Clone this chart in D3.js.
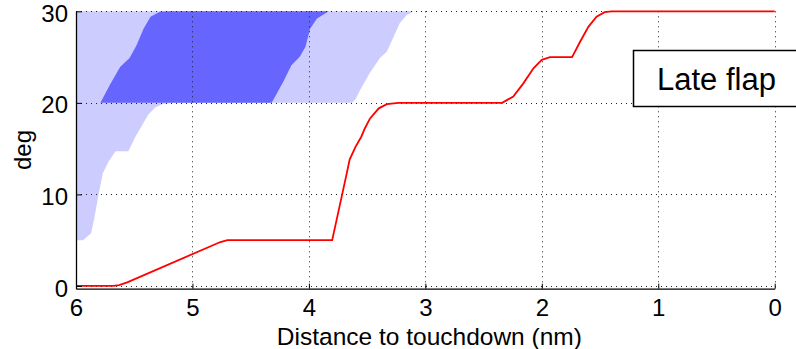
<!DOCTYPE html>
<html>
<head>
<meta charset="utf-8">
<script src="https://cdn.jsdelivr.net/npm/d3@7"></script>
<style>
  body { margin: 0; background: #fff; }
  text { font-family: "Liberation Sans", Arial, sans-serif; fill: #000; }
</style>
</head>
<body>
<div id="chart"></div>
<script>
// light band: lower edge of the allowed region (upper edge is 30 deg)
const lightDist = [6.00, 5.94, 5.87, 5.84, 5.81, 5.77, 5.72, 5.66, 5.55, 5.49, 5.44, 5.38, 5.32, 5.25, 5.15, 3.63, 3.60, 3.56, 3.48, 3.39, 3.33, 3.28, 3.22, 3.16, 3.10];
const lightLow  = [5.0, 5.0, 5.75, 7.6, 9.75, 12.3, 13.6, 14.7, 14.7, 16.3, 17.4, 18.7, 19.5, 19.9, 20, 20, 20.4, 21.4, 23.2, 24.9, 25.6, 27.0, 28.7, 29.6, 30];

// dark band: left (upper) edge and right (lower) edge
const darkHiDist = [5.79, 5.71, 5.62, 5.54, 5.48, 5.42, 5.36, 5.28, 5.20];
const darkHiDeg  = [20, 21.95, 23.95, 24.9, 26.3, 28.1, 29.4, 29.95, 30];
const darkLoDist = [3.83, 3.93, 3.99, 4.03, 4.08, 4.15, 4.22, 4.28, 4.32];
const darkLoDeg  = [30, 29.2, 28.1, 26.1, 25.0, 24.1, 22.3, 20.9, 20];

// flap schedule
const flapDist = [6.00, 5.68, 5.63, 5.56, 4.76, 4.70, 3.80, 3.675, 3.65, 3.60, 3.55, 3.52, 3.475, 3.40, 3.33, 3.23, 2.34, 2.30, 2.245, 2.16, 2.07, 2.00, 1.93, 1.74, 1.67, 1.60, 1.53, 1.46, 1.40, 0.00];
const flapDeg  = [0, 0, 0.1, 0.4, 4.8, 5.0, 5.0, 12.3, 13.8, 15.2, 16.3, 17.2, 18.3, 19.4, 19.85, 20.0, 20.0, 20.3, 20.7, 22.1, 23.8, 24.7, 25.0, 25.0, 26.7, 28.3, 29.4, 29.9, 30, 30];

const distTicks = [6, 5, 4, 3, 2, 1, 0];
const degTicks = [0, 10, 20, 30];
const legendLabel = "Late flap";

const W = 796, H = 349;
const plot = { left: 76, right: 774.7, top: 11.3, bottom: 288.7 };

const svg = d3.select("#chart").append("svg")
  .attr("width", W)
  .attr("height", H);

const x = d3.scaleLinear().domain([6, 0]).range([plot.left, plot.right]);
const y = d3.scaleLinear().domain([-0.3, 30]).range([plot.bottom, plot.top]);

// light region
const lightArea = d3.area()
  .x(d => x(d[0]))
  .y0(d => y(d[1]))
  .y1(y(30));
svg.append("path")
  .datum(lightDist.map((d, i) => [d, lightLow[i]]))
  .attr("d", lightArea)
  .attr("fill", "#ccccff");

// dark region as a closed outline
const darkPts = darkHiDist.map((d, i) => [d, darkHiDeg[i]])
  .concat(darkLoDist.map((d, i) => [d, darkLoDeg[i]]));
svg.append("path")
  .datum(darkPts)
  .attr("d", d3.line().x(d => x(d[0])).y(d => y(d[1])).curve(d3.curveLinearClosed))
  .attr("fill", "#6666ff");

// grid
const grid = svg.append("g")
  .attr("stroke", "#222")
  .attr("stroke-width", 1)
  .attr("stroke-dasharray", "1,4");
grid.selectAll(".vg").data(distTicks).enter().append("line")
  .attr("x1", d => Math.round(x(d)) + 0.5).attr("x2", d => Math.round(x(d)) + 0.5)
  .attr("y1", plot.top).attr("y2", plot.bottom);
grid.selectAll(".hg").data(degTicks).enter().append("line")
  .attr("x1", plot.left).attr("x2", plot.right)
  .attr("y1", d => Math.round(y(d)) + 0.5).attr("y2", d => Math.round(y(d)) + 0.5);

// flap line
svg.append("path")
  .datum(flapDist.map((d, i) => [d, flapDeg[i]]))
  .attr("d", d3.line().x(d => x(d[0])).y(d => y(d[1])))
  .attr("fill", "none")
  .attr("stroke", "#ff0000")
  .attr("stroke-width", 1.8);

// axes
const xAxis = svg.append("g")
  .attr("transform", `translate(0,${plot.bottom})`)
  .call(d3.axisBottom(x).tickValues(distTicks).tickFormat(d3.format("d")).tickSizeInner(-5).tickSizeOuter(0).tickPadding(10));
const yAxis = svg.append("g")
  .attr("transform", `translate(${plot.left},0)`)
  .call(d3.axisLeft(y).tickValues(degTicks).tickFormat(d3.format("d")).tickSizeInner(-6).tickSizeOuter(0).tickPadding(8));

[xAxis, yAxis].forEach(a => {
  a.select(".domain").attr("stroke", "#000").attr("stroke-width", 1.3);
  a.selectAll(".tick line").attr("stroke", "#000");
  a.selectAll(".tick text")
    .style("font-family", "'Liberation Sans', Arial, sans-serif")
    .style("font-size", "24px")
    .attr("fill", "#000");
});
yAxis.selectAll(".tick text").attr("dy", "0.42em");

// axis titles
svg.append("text")
  .attr("x", (plot.left + plot.right) / 2 + 4)
  .attr("y", 345)
  .attr("text-anchor", "middle")
  .style("font-size", "24.5px")
  .text("Distance to touchdown (nm)");

svg.append("text")
  .attr("transform", "translate(31,150) rotate(-90)")
  .attr("text-anchor", "middle")
  .style("font-size", "24px")
  .text("deg");

// legend box
const lg = svg.append("g");
lg.append("rect")
  .attr("x", 633.5).attr("y", 50.5)
  .attr("width", 180).attr("height", 56)
  .attr("fill", "#fff")
  .attr("stroke", "#000")
  .attr("stroke-width", 1.5);
lg.append("text")
  .attr("x", 657)
  .attr("y", 90)
  .style("font-size", "31px")
  .text(legendLabel);
</script>
</body>
</html>
